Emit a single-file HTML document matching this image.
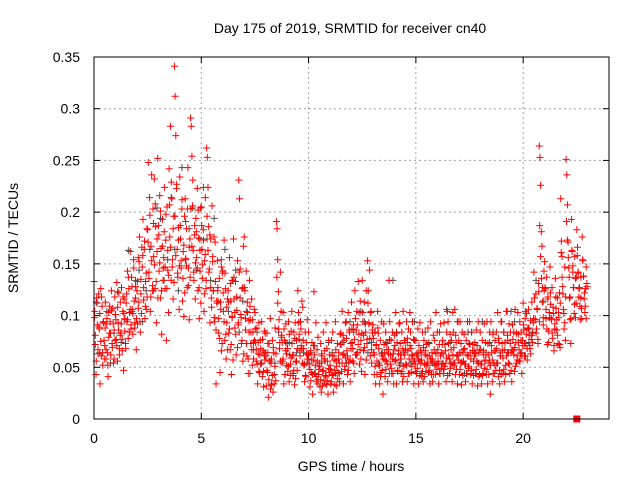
<!DOCTYPE html>
<html><head><meta charset="utf-8"><style>
body{margin:0;background:#fff;}
svg{display:block;font-family:"Liberation Sans",sans-serif;}
</style></head><body>
<svg id="chart" width="640" height="480">
<text x="350" y="33" font-size="14" text-anchor="middle">Day 175 of 2019, SRMTID for receiver cn40</text>
<text x="351" y="471" font-size="14" text-anchor="middle">GPS time / hours</text>
<text x="18" y="238" font-size="14" text-anchor="middle" transform="rotate(-90 18 238)">SRMTID / TECUs</text>
<g id="grid"></g><g id="gray"></g><g id="red"></g>
<rect x="94" y="57" width="515" height="362" fill="none" stroke="#000"/>
</svg>
<script>
const xTicks=[0,5,10,15,20];
const yTicks=[0,0.05,0.1,0.15,0.2,0.25,0.3,0.35];
const yTickLabels=["0","0.05","0.1","0.15","0.2","0.25","0.3","0.35"];
const stepHours=[0,0.25,0.5,0.75,1,1.25,1.5,1.75,2,2.25,2.5,2.75,3,3.25,3.5,3.75,4,4.25,4.5,4.75,5,5.25,5.5,5.75,6,6.25,6.5,6.75,7,7.25,7.5,7.75,8,8.25,8.5,8.75,9,9.25,9.5,9.75,10,10.25,10.5,10.75,11,11.25,11.5,11.75,12,12.25,12.5,12.75,13,13.25,13.5,13.75,14,14.25,14.5,14.75,15,15.25,15.5,15.75,16,16.25,16.5,16.75,17,17.25,17.5,17.75,18,18.25,18.5,18.75,19,19.25,19.5,19.75,20,20.25,20.5,20.75,21,21.25,21.5,21.75,22,22.25,22.5,22.75];
const redThousandths=[
[133,104,72,43,117,91,63,121],[87,34,126,61,109,52,94,76],[71,113,58,92,64,41,103,83],[94,62,124,73,107,54,86,118],
[101,77,132,56,93,122,68,81],[83,127,66,104,47,116,97,73],[112,94,143,78,126,103,162,87],[137,106,82,154,114,93,128,67],
[124,92,156,113,176,84,135,102],[147,193,115,164,97,133,106,184],[183,248,136,214,104,167,236,124],[203,157,232,126,186,93,174,252],
[187,143,216,117,165,82,193,134],[156,224,126,173,76,205,144,103],[242,176,283,134,213,154,116,196],[341,312,274,223,164,137,185,106],
[234,174,146,203,114,162,99,196],[213,155,184,127,243,146,96,174],[291,283,254,206,163,134,187,116],[194,156,223,124,175,97,143,204],
[205,164,136,183,104,153,214,126],[262,253,224,186,145,93,174,117],[206,157,124,176,94,133,34,114],[153,114,83,136,45,106,147,73],
[143,104,173,76,126,58,93,116],[124,83,156,67,114,43,99,134],[174,116,88,133,62,105,153,91],[231,213,145,101,73,126,56,167],
[176,124,86,143,61,103,44,95],[134,96,73,116,52,84,67,106],[103,74,56,88,34,63,93,45],[76,53,94,41,66,31,85,57],
[64,32,83,45,21,73,56,97],[54,33,76,26,64,43,88,37],[191,184,154,123,96,74,56,104],[81,56,103,34,76,43,92,63],
[73,46,94,36,62,53,85,104],[61,42,84,33,93,55,76,47],[124,103,82,66,94,71,114,54],[76,52,36,84,41,63,96,58],
[84,53,31,66,45,74,24,57],[123,62,44,93,36,56,79,43],[54,31,73,26,61,46,84,37],[66,42,93,33,56,24,76,45],
[52,34,76,43,84,26,61,47],[94,56,32,73,45,64,36,82],[83,46,104,62,34,76,51,93],[94,66,43,103,55,84,36,73],
[113,74,56,91,44,124,62,86],[104,64,133,82,53,114,76,46],[134,94,66,113,43,84,124,73],[153,124,93,144,61,104,54,86],
[91,64,43,84,34,72,56,104],[83,52,34,76,45,94,61,24],[92,64,41,84,56,73,36,67],[134,94,53,76,44,84,63,34],
[81,56,103,34,74,46,66,92],[93,62,44,84,36,104,51,76],[74,53,94,36,66,87,44,103],[84,45,62,94,56,34,76,53],
[76,44,61,87,34,56,93,66],[64,41,84,36,76,53,66,46],[72,54,88,45,61,34,94,56],[64,36,81,54,76,43,103,53],
[84,56,34,72,44,92,64,53],[76,44,93,51,66,36,84,104],[94,61,44,82,54,76,36,103],[84,52,106,43,74,61,34,94],
[76,43,94,54,33,84,64,56],[82,53,36,76,44,94,61,51],[94,64,43,84,34,72,56,66],[74,44,86,56,32,94,64,43],
[84,53,34,76,44,66,92,56],[74,43,94,34,62,54,84,24],[94,64,36,82,54,44,76,66],[84,54,103,41,74,34,61,94],
[94,66,44,84,36,74,52,104],[104,76,54,92,44,84,64,36],[91,66,84,46,106,74,54,61],[103,74,56,94,63,84,44,76],
[112,86,61,97,73,102,57,88],[106,81,68,95,77,113,83,93],[142,117,96,121,87,106,73,131],[264,253,226,181,167,127,91,143],
[152,126,97,137,72,118,85,103],[147,111,96,127,78,102,66,87],[136,107,86,117,73,98,122,69],[213,172,157,128,106,87,147,76],
[251,236,207,171,146,117,96,73],[193,162,148,127,102,157,136,112],[183,166,141,118,127,96,137,107],[176,153,138,116,103,126,147,131]];
const redExtraThousandths=[
[98,81,56,112,67,89],[102,75,118,64,93,58],[88,67,97,52,79,109],[83,105,69,92,58,76],
[96,71,108,86,62,113],[92,77,118,102,85,68],[121,96,137,84,106,91],[128,102,146,88,117,97],
[133,107,152,94,121,166],[158,127,172,109,141,118],[171,142,197,118,153,129],[189,149,208,133,162,117],
[178,151,201,124,167,146],[181,147,198,126,163,139],[207,166,229,147,184,132],[196,158,227,141,173,148],
[187,153,212,136,168,122],[191,148,203,129,166,137],[203,167,231,142,178,151],[181,146,202,127,163,112],
[187,149,173,121,159,134],[196,163,142,178,127,108],[152,124,98,171,86,112],[127,97,78,113,66,141],
[122,94,141,82,108,67],[113,87,131,72,98,57],[137,103,82,118,69,93],[142,117,98,76,127,63],
[127,97,73,113,58,84],[109,84,67,96,58,76],[87,67,53,74,46,62],[68,54,77,46,61,83],
[61,47,73,38,56,29],[58,42,69,34,51,63],[137,112,87,68,142,79],[74,58,87,43,66,52],
[68,51,82,42,59,73],[62,47,78,39,56,68],[93,77,61,87,68,108],[68,53,42,74,58,62],
[63,48,37,57,43,71],[71,52,41,67,38,48],[51,38,63,32,47,58],[56,41,68,37,49,62],
[48,36,61,42,57,33],[67,51,39,58,44,72],[72,54,81,63,48,59],[78,61,47,86,57,68],
[87,68,54,77,97,62],[91,72,103,67,58,83],[103,81,69,92,57,77],[112,92,78,103,67,83],
[78,62,51,71,43,88],[68,52,41,63,47,58],[72,57,48,67,53,63],[77,62,49,58,44,67],
[71,57,83,47,63,52],[73,58,46,68,41,62],[67,52,78,44,58,71],[68,51,61,77,56,46],
[63,49,58,71,42,54],[57,46,69,41,62,52],[61,52,73,47,58,43],[58,43,67,52,63,48],
[67,53,44,61,49,72],[63,48,72,54,59,42],[73,58,49,67,53,62],[69,54,81,48,62,57],
[64,48,73,55,42,67],[68,53,44,62,49,73],[72,58,47,66,42,61],[63,48,71,54,41,67],
[67,53,42,62,49,57],[62,48,73,43,57,52],[71,57,44,66,52,47],[68,54,78,47,61,43],
[73,59,48,67,43,61],[81,64,53,73,47,67],[77,62,69,51,83,57],[82,67,56,76,61,71],
[91,73,61,82,68,87],[88,71,63,81,74,97],[117,96,83,107,77,123],[187,157,136,113,98,124],
[127,106,87,116,74,98],[122,97,83,108,71,92],[118,96,81,103,72,112],[161,137,121,102,93,118],
[191,173,156,137,118,97],[163,142,127,111,98,137],[158,142,126,109,117,97],[154,138,122,109,97,128]];
const grayHours=[0,0.5,1,1.5,2,2.5,3,3.5,4,4.5,5,5.5,6,6.5,7,7.5,8,8.5,9,9.5,10,10.5,11,11.5,12,12.5,13,13.5,14,14.5,15,15.5,16,16.5,17,17.5,18,18.5,19,19.5,20,20.5];
const grayThousandths=[
[113,64,93],[104,54,83],[123,74,96],[163,104,134],[144,94,124],[164,124,204],[194,134,154],[214,164,124],[243,154,184],[204,144,174],[224,174,134],[194,124,154],[164,104,134],[144,84,114],[104,44,74],[84,54,64],[64,34,54],[84,54,74],[74,44,64],[94,64,54],[64,44,34],[54,34,74],[64,44,54],[74,54,94],[84,64,104],[94,64,74],[84,54,64],[74,44,134],[84,54,64],[74,54,94],[64,44,84],[74,54,64],[84,54,106],[74,54,94],[64,44,84],[84,64,54],[94,64,74],[84,54,64],[84,64,104],[94,74,64],[104,74,84],[134,94,114]];
const markerHours=[22.5];
const markerValues=[0];

const X0=94,X1=609,Y0=419,Y1=57,XMAX=24,YMAX=0.35;
const xs=h=>X0+(X1-X0)*h/XMAX;
const ys=v=>Y0-(Y0-Y1)*v/YMAX;
const NS="http://www.w3.org/2000/svg";
const svg=document.getElementById('chart');
function mk(tag,attrs,parent){const e=document.createElementNS(NS,tag);for(const k in attrs)e.setAttribute(k,attrs[k]);(parent||svg).appendChild(e);return e;}
const grid=document.getElementById('grid');
xTicks.forEach(t=>{
  const x=xs(t);
  if(t>0){const g=mk('line',{x1:x,x2:x,y1:Y1,y2:Y0,stroke:'#a0a0a0','stroke-dasharray':'2,3'},grid);
  
  }
  mk('line',{x1:x,x2:x,y1:Y0,y2:Y0-6,stroke:'#000'},grid);
  mk('line',{x1:x,x2:x,y1:Y1,y2:Y1+6,stroke:'#000'},grid);
  const tx=mk('text',{x:x,y:Y0+24,'font-size':14,'text-anchor':'middle'},grid);
  tx.textContent=String(t);
  
  
});
yTicks.forEach((t,i)=>{
  const y=ys(t);
  if(t>0&&t<YMAX){const g=mk('line',{x1:X0,x2:X1,y1:y,y2:y,stroke:'#a0a0a0','stroke-dasharray':'2,3'},grid);
  
  }
  mk('line',{x1:X0,x2:X0+6,y1:y,y2:y,stroke:'#000'},grid);
  mk('line',{x1:X1,x2:X1-6,y1:y,y2:y,stroke:'#000'},grid);
  const tx=mk('text',{x:X0-14,y:y+5,'font-size':14,'text-anchor':'end'},grid);
  tx.textContent=yTickLabels[i];
  
  
});
function plus(g,h,v,color,name){
  const x=xs(h),y=ys(v);
  const p=mk('path',{d:`M${x-3.5},${y}H${x+3.5}M${x},${y-3.5}V${y+3.5}`,stroke:color,'stroke-width':1,fill:'none'},g);
  
  
}
const gg=document.getElementById('gray');
grayHours.forEach((h,i)=>{const vals=grayThousandths[i];vals.forEach((v,k)=>plus(gg,h+k*0.5/vals.length+0.1,v/1000,'#505050','gray-point'));});
const rg=document.getElementById('red');
stepHours.forEach((h,i)=>{const vals=redThousandths[i];vals.forEach((v,k)=>plus(rg,h+k*0.25/vals.length,v/1000,'#ff0000','red-point'));});
stepHours.forEach((h,i)=>{const vals=redExtraThousandths[i];vals.forEach((v,k)=>plus(rg,h+0.02+k*0.25/vals.length,v/1000,'#ff0000','red-point'));});
markerHours.forEach((h,i)=>{
  const r=mk('rect',{x:xs(h)-3.5,y:ys(markerValues[i])-3.5,width:7,height:7,fill:'#ff0000'},rg);
  
  
});
</script>
</body></html>
